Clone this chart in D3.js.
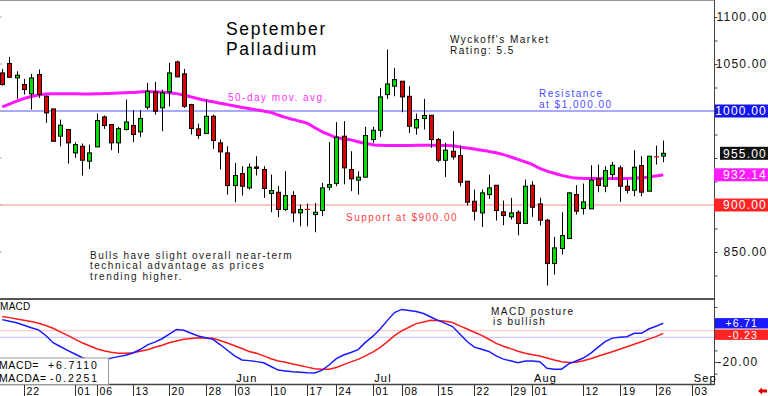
<!DOCTYPE html>
<html><head><meta charset="utf-8">
<script src="https://cdn.jsdelivr.net/npm/d3@7"></script>
<style>
body{margin:0;background:#fff;overflow:hidden}
svg{display:block}
text{font-family:"Liberation Sans",Arial,sans-serif}
</style>
</head><body>
<svg id="c" width="768" height="396"></svg>
<script>
// ---------- DATA ----------
const dates = [
"04-17","04-18","04-19","04-22","04-23","04-24","04-25","04-26","04-29","04-30",
"05-01","05-02","05-03","05-06","05-07","05-08","05-09","05-10","05-13","05-14","05-15","05-16","05-17","05-20","05-21","05-22","05-23","05-24","05-28","05-29","05-30","05-31",
"06-03","06-04","06-05","06-06","06-07","06-10","06-11","06-12","06-13","06-14","06-17","06-18","06-20","06-21","06-24","06-25","06-26","06-27","06-28",
"07-01","07-02","07-03","07-05","07-08","07-09","07-10","07-11","07-12","07-15","07-16","07-17","07-18","07-19","07-22","07-23","07-24","07-25","07-26","07-29","07-30","07-31",
"08-01","08-02","08-05","08-06","08-07","08-08","08-09","08-12","08-13","08-14","08-15","08-16","08-19","08-20","08-21","08-22","08-23","08-26","08-27"];
const futureDates = ["08-28","08-29","08-30","09-03","09-04","09-05","09-06"];

const open = [
1040.5,1050.5,1035.2,1028.1,1018.2,1038.8,1015.7,1002.2,973.2,980.3,
955.4,962.5,946.6,961.8,993.7,985.6,966.1,980.3,984.5,977.8,
1004,1020.3,1003.3,1020.3,1052.2,1039.5,1006.9,981,976,994.4,
966.1,955.4,920.7,933.4,918.2,940.5,937.7,912.2,913.6,895.2,
910,891.6,895.6,889.8,894.1,918.9,922.8,973.2,937.7,926.4,
929.6,969.6,979.5,1017.5,1026.4,1031.7,1015.7,982,992,995.5,
969.6,947.6,957.2,952.6,925.3,904,891.6,911.1,921,892.7,
887.4,892.3,880.3,921,901.2,883.8,837.7,853.7,864.3,911.1,
896.2,895.9,927.8,920,932.4,939.5,920,915.7,942,914.7,
951.5,952];
const high = [
1044.8,1057.6,1042.3,1034.2,1039.5,1044.1,1016.4,1002.2,990.9,981,
966.8,965.4,964.3,997.3,995.2,985.6,983.1,1012.2,1000.8,1000.8,
1029.9,1031,1022.8,1051.2,1053.7,1044.8,1007.6,986.6,1012.2,996.2,
969.6,962.5,944.8,941.3,944.1,951.9,941.3,932.4,920,935.9,
914.7,900.5,901.5,902.2,923.5,966.8,988.1,989.1,957.2,935.9,
983.1,983.1,1024.6,1065.4,1045.9,1031.7,1026.4,997.3,1012.9,995.5,
971.4,966.1,978.5,963.2,925.3,916.4,916.4,932.4,921,904.7,
907.6,894.4,927.1,925.3,907.6,885.2,866.1,892.3,913.6,921,
922.8,942.3,943,941.3,945.9,942,927.1,958.3,951.9,951.9,
963.2,968.6];
const low = [
1027,1035.2,1012.9,1017.5,1001.5,1013.9,987.4,967.8,962.5,944.1,
950.1,931.3,938.4,961.8,981,958.3,955.4,979.2,966.8,972.5,
1001.5,996.2,978.5,1005,1036.3,1003.3,975,970.3,976,959.7,
937.7,911.1,903,910,916.4,931.3,907.6,892.3,887,893.5,
881.7,877.4,877.4,871,888.1,915.7,920,922,914.7,911.1,
929.6,966.1,972.5,1012.9,1015.7,998.7,976.7,974.9,980.3,960.8,
945.5,929.9,948.3,920,899.4,883.5,876.7,906.5,883.5,878.5,
884.5,867.8,880.3,887.4,878.1,814.3,826,847.3,864.3,889.8,
889.8,895.9,913.6,913.6,927.1,903.3,912.2,909.3,909.3,914.7,
943,945.5];
const close = [
1028.1,1035.9,1038.1,1022.8,1035.2,1017.5,998,967.8,984.9,966.1,
964.3,947.6,955.4,989.8,984.5,966.1,981.3,988.4,975,992,
1021,999.8,1019.3,1040.5,1036.3,1005,981.3,973.9,994.4,968.6,
956.5,920.7,931.3,920,940.2,939,917.5,915.4,895.2,910,
891.6,895.2,895.0,892.3,918.2,921.7,972.1,939.5,927.8,929.6,
973.9,979.5,1015,1028.8,1033.4,1015,983.8,990.9,995.2,969.6,
947.6,958.3,951.2,924.2,903,893.4,912.9,918.2,894.1,888.8,
891.6,880.3,920,897.6,883.8,837.7,854.4,867.5,912.9,893.4,
903.3,926.4,920.7,936.6,942.3,920,915.7,940.2,913.6,951.9,
951.0,955];
const ma50 = [
1004.3,1007.4,1010.6,1013.3,1015.4,1017,1018.1,1018.3,1018.4,1018.4,
1018.3,1018.2,1018.2,1018.3,1018.5,1018.8,1019.2,1019.5,1019.8,1020.3,
1020.6,1020.4,1020,1019.5,1018.5,1017,1015,1013,1011.2,1009.8,
1008.2,1006.8,1005.3,1003.8,1002.5,1001.2,999.9,998.4,995.7,993.2,
991.1,989.1,986.8,982.5,978,974.8,971.8,970.4,969.3,967.3,
965.4,964.2,963.5,963.3,963.2,963.2,963.3,963.5,963.5,963.5,
963.4,963.3,963,961.8,960.7,959.6,958.2,957,955.5,953.6,
951.1,948.6,945.9,943,939,936.1,933.8,931.5,929.8,928.6,
928.3,928.2,928.2,928.2,928.2,928.2,928.3,928.5,929,929.8,
930.9,932.14];
const macd = [
9.25,8.14,7.11,5.31,3.59,2.21,-1.73,-6.69,-9.32,-11.94,
-14.49,-16.91,-18.98,-19.32,-18.63,-17.32,-16.29,-15.39,-13.8,-11.39,
-8.14,-6.28,-3.93,-0.76,2.35,1.86,-0.14,-2.07,-3.24,-4.35,
-7.94,-11.87,-15.73,-18.63,-19.05,-19.74,-20.57,-23.12,-25.6,-26.16,
-26.71,-27.12,-27.47,-27.61,-25.81,-22.08,-17.67,-15.18,-13.39,-11.46,
-6.49,-2.35,2.55,8.56,14.15,16.29,15.6,14.91,13.46,11.04,
8.7,6.63,4.49,-0.62,-5.87,-9.73,-11.25,-12.7,-15.8,-18.01,
-19.19,-20.43,-19.39,-19.32,-19.81,-24.36,-24.98,-24.98,-21.26,-19.32,
-17.25,-14.01,-9.94,-5.94,-3.52,-2.9,-2.55,-0.21,-0.21,2.76,
4.62,6.71];
const macdAvg = [
11.46,10.63,9.73,8.83,8.01,6.76,5.18,3.31,0.83,-1.59,
-4.21,-6.76,-8.83,-10.84,-12.28,-13.25,-14.01,-13.94,-13.6,-12.63,
-11.59,-9.87,-8.42,-6.76,-5.45,-4.35,-3.8,-3.31,-3.38,-3.66,
-5.11,-6.9,-8.76,-10.7,-12.7,-13.94,-15.8,-17.74,-19.25,-20.22,
-21.39,-22.43,-23.53,-24.71,-25.05,-25.05,-23.74,-21.81,-19.94,-18.22,
-15.8,-13.25,-10.08,-6.07,-1.86,1.45,4,6.49,7.66,8.83,
8.63,8.07,7.25,4.9,2.76,0.55,-1.59,-4.28,-7.11,-9.11,
-10.77,-12.56,-14.01,-15.04,-15.87,-17.18,-18.63,-19.88,-20.29,-20.15,
-19.12,-17.81,-16.08,-14.49,-12.97,-11.18,-9.45,-7.8,-6.07,-4.21,
-2.48,-0.23];

const priceTicks = [1100,1050,1000,950,900,850];
const priceMinorTicks = [1075,1025,975,925,875,825];
const resistance = 1000, support = 900;
const markerValues = [1000, 955, 932.14, 900];
const markerLabels = ["1000.00","955.00","932.14","900.00"];
const macdTicks = [-20];
const macdMinorTicks = [18,-12,-28];
const macdRefLevels = [1.6,-3.0];
const macdLast = [6.71,-0.23];
const macdLastLabels = ["+6.71","-0.23"];
const xTickDates = ["04-22","05-01","05-06","05-13","05-20","05-28","06-03","06-10","06-17","06-24","07-01","07-08","07-15","07-22","07-29","08-01","08-12","08-19","08-26","09-03"];
const xTickLabels = ["22","01","06","13","20","28","03","10","17","24","01","08","15","22","29","01","12","19","26","03"];
const monthDates = ["06-03","07-01","08-01","09-03"];
const monthLabels = ["Jun","Jul","Aug","Sep"];

// ---------- CHART ----------
const svg = d3.select("#c");
const W = 768, H = 396, axisX = 714;
const allDates = dates.concat(futureDates);
const x = d3.scalePoint().domain(allDates).range([2.2, 2.2 + 7.264*(allDates.length-1)]);
const y = d3.scaleLinear().domain([800,1100]).range([299,17]);
const ym = d3.scaleLinear().domain([-20,6.71]).range([362,323.3]);

svg.append("line").attr("x1",0).attr("x2",axisX).attr("y1",0.5).attr("y2",0.5).attr("stroke","#999");

svg.append("line").attr("x1",0).attr("x2",axisX).attr("y1",y(resistance)).attr("y2",y(resistance))
  .attr("stroke","#8c8cff").attr("stroke-width",1.6);
svg.append("line").attr("x1",0).attr("x2",axisX).attr("y1",y(support)).attr("y2",y(support))
  .attr("stroke","#ff8c8c").attr("stroke-width",1.2);

svg.selectAll(".lt").data(priceTicks).enter().append("line")
  .attr("x1",0).attr("x2",2).attr("y1",d=>y(d)).attr("y2",d=>y(d)).attr("stroke","#aaa");

const maLine = d3.line().x((d,i)=>x(dates[i])).y(d=>y(d)).curve(d3.curveMonotoneX);
svg.append("path").datum(ma50).attr("d",maLine).attr("fill","none")
  .attr("stroke","#ff18ff").attr("stroke-width",3);

const g = svg.append("g");
dates.forEach((d,i)=>{
  const cx = Math.round(x(d));
  const o=open[i], c=close[i], up = c>=o;
  g.append("line").attr("x1",cx+0.5).attr("x2",cx+0.5).attr("y1",y(high[i])).attr("y2",y(low[i]))
    .attr("stroke","#000").attr("stroke-width",1);
  const top = y(Math.max(o,c)), bot = y(Math.min(o,c));
  if (bot-top < 1.2) {
    g.append("line").attr("x1",cx-2).attr("x2",cx+3).attr("y1",(top+bot)/2).attr("y2",(top+bot)/2)
      .attr("stroke", up? "#00d000":"#e00000").attr("stroke-width",1.2);
  } else {
    g.append("rect").attr("x",cx-1.5).attr("y",top).attr("width",4).attr("height",bot-top)
      .attr("fill", up? "#00dd00":"#dd0000").attr("stroke","#000").attr("stroke-width",1);
  }
});

function txt(xp, yp, s, size, color, ls, anchor){
  return svg.append("text").attr("x",xp).attr("y",yp).text(s)
    .attr("font-size",size).attr("fill",color)
    .style("letter-spacing", ls+"px").attr("text-anchor",anchor||"start");
}
const title = svg.append("text").attr("font-size",17.5).attr("fill","#000").style("letter-spacing","1.7px");
title.append("tspan").attr("x",226).attr("y",34.5).text("September");
title.append("tspan").attr("x",226).attr("y",54.5).text("Palladium");
const wy = svg.append("text").attr("font-size",10).attr("fill","#111").style("letter-spacing","1.5px");
wy.append("tspan").attr("x",450).attr("y",42.5).text("Wyckoff's Market");
wy.append("tspan").attr("x",450).attr("y",53.5).text("Rating: 5.5");
txt(228,100.5,"50-day mov. avg.",10,"#ff30ff",1.5);
const rs = svg.append("text").attr("font-size",10).attr("fill","#4b4bff").style("letter-spacing","1.5px");
rs.append("tspan").attr("x",539).attr("y",97).text("Resistance");
rs.append("tspan").attr("x",539).attr("y",107.5).text("at $1,000.00");
txt(346,220.5,"Support at $900.00",10,"#ff4040",1.5);
const bl = svg.append("text").attr("font-size",10).attr("fill","#222").style("letter-spacing","1.5px");
bl.append("tspan").attr("x",90).attr("y",258.7).text("Bulls have slight overall near-term");
bl.append("tspan").attr("x",90).attr("y",269.2).text("technical advantage as prices");
bl.append("tspan").attr("x",90).attr("y",279.7).text("trending higher.");

// right price axis
svg.append("line").attr("x1",axisX+0.5).attr("x2",axisX+0.5).attr("y1",0).attr("y2",385).attr("stroke","#444");
const ay = svg.append("g").attr("transform",`translate(${axisX+0.5},0)`)
  .call(d3.axisRight(y).tickValues(priceTicks).tickSize(3).tickFormat(d3.format(".2f")));
ay.select(".domain").remove();
ay.selectAll("line").attr("stroke","#444");
ay.selectAll("text").attr("x",53).attr("text-anchor","end").attr("font-size",12)
  .attr("font-family","Liberation Sans, Arial, sans-serif").attr("fill","#111").style("letter-spacing","1.2px");
// labels covered by a marker box in the reference
ay.selectAll(".tick").filter(d=>markerValues.some(v=>Math.abs(y(v)-y(d))<9)).select("text").remove();
const aym = svg.append("g").attr("transform",`translate(${axisX+0.5},0)`)
  .call(d3.axisRight(y).tickValues(priceMinorTicks).tickSize(3).tickFormat(""));
aym.select(".domain").remove();
aym.selectAll("line").attr("stroke","#444");

const markerFill = ["#1414ee","#111","#ff1cff","#ff2424"];
const markerX = [715,720,714,714];
markerValues.forEach((v,k)=>{
  const yy = y(v);
  svg.append("rect").attr("x",markerX[k]).attr("y",yy-6.5).attr("width",W-markerX[k]).attr("height",13).attr("fill",markerFill[k]);
  txt(767,yy+4.3,markerLabels[k],12,"#fff",1.2,"end");
});

svg.append("line").attr("x1",0).attr("x2",axisX).attr("y1",299).attr("y2",299).attr("stroke","#555").attr("stroke-width",2);
svg.append("line").attr("x1",0).attr("x2",axisX).attr("y1",384.5).attr("y2",384.5).attr("stroke","#444").attr("stroke-width",1.5);

// MACD panel
svg.selectAll(".mr").data(macdRefLevels).enter().append("line")
  .attr("x1",0).attr("x2",axisX).attr("y1",d=>ym(d)).attr("y2",d=>ym(d))
  .attr("stroke",(d,k)=>k===0?"#ffcccc":"#ccccff").attr("stroke-width",1.2);
const mLine = d3.line().x((d,i)=>x(dates[i])).y(d=>ym(d));
svg.append("path").datum(macdAvg).attr("d",mLine).attr("fill","none").attr("stroke","#ff1a1a").attr("stroke-width",1.5);
svg.append("path").datum(macd).attr("d",mLine).attr("fill","none").attr("stroke","#1a1aff").attr("stroke-width",1.5);

txt(0,310,"MACD",10,"#000",0.3);
const mp = svg.append("text").attr("font-size",10).attr("fill","#111").style("letter-spacing","1.5px");
mp.append("tspan").attr("x",491).attr("y",314.5).text("MACD posture");
mp.append("tspan").attr("x",493).attr("y",325).text("is bullish");

svg.append("rect").attr("x",-1).attr("y",358).attr("width",109.5).attr("height",26.5).attr("fill","#fff").attr("stroke","#999");
const mb1 = svg.append("text").attr("font-size",10.5).attr("fill","#000");
mb1.append("tspan").attr("x",-1).attr("y",368.5).style("letter-spacing","0.6px").text("MACD=");
mb1.append("tspan").attr("x",48).attr("y",368.5).style("letter-spacing","1.9px").text("+6.7110");
mb1.append("tspan").attr("x",-1).attr("y",381.5).style("letter-spacing","0.6px").text("MACDA=");
mb1.append("tspan").attr("x",50).attr("y",381.5).style("letter-spacing","1.9px").text("-0.2251");

const am = svg.append("g").attr("transform",`translate(${axisX+0.5},0)`)
  .call(d3.axisRight(ym).tickValues(macdTicks).tickSize(3).tickFormat(d=>d3.format(".2f")(d).replace("−","-")));
am.select(".domain").remove();
am.selectAll("line").attr("stroke","#444");
am.selectAll("text").attr("x",44).attr("text-anchor","end").attr("font-size",12)
  .attr("font-family","Liberation Sans, Arial, sans-serif").attr("fill","#111").style("letter-spacing","1.2px");
const amm = svg.append("g").attr("transform",`translate(${axisX+0.5},0)`)
  .call(d3.axisRight(ym).tickValues(macdMinorTicks).tickSize(3).tickFormat(""));
amm.select(".domain").remove();
amm.selectAll("line").attr("stroke","#444");
const lastFill = ["#1a1aff","#ff2424"];
const lastBoxes = svg.append("g");
const lastText = svg.append("text").attr("font-size",10.5).attr("fill","#fff").attr("text-anchor","end").style("letter-spacing","1.2px");
macdLast.forEach((v,k)=>{
  const yy = k===0 ? ym(v) : Math.max(ym(v), ym(macdLast[0])+11.4);
  lastBoxes.append("rect").attr("x",715).attr("y",yy-5.2).attr("width",53).attr("height",10.4).attr("fill",lastFill[k]);
  lastText.append("tspan").attr("x",758).attr("y",yy+3.8).text(macdLastLabels[k]);
});

monthDates.forEach((d,k)=>{
  txt(x(d)+1.5,382,monthLabels[k],11,"#000",1.2);
});
xTickDates.forEach((d,k)=>{
  const xx = Math.round(x(d))+0.5;
  svg.append("line").attr("x1",xx).attr("x2",xx).attr("y1",385).attr("y2",396).attr("stroke","#333");
  txt(xx+2,394.5,xTickLabels[k],10.5,"#000",1);
});

svg.append("path").attr("d","M758,391 L762,387.5 L762,389.5 L767,389.5 L767,392.5 L762,392.5 L762,394.5 Z").attr("fill","#e00000");
</script>
</body></html>
